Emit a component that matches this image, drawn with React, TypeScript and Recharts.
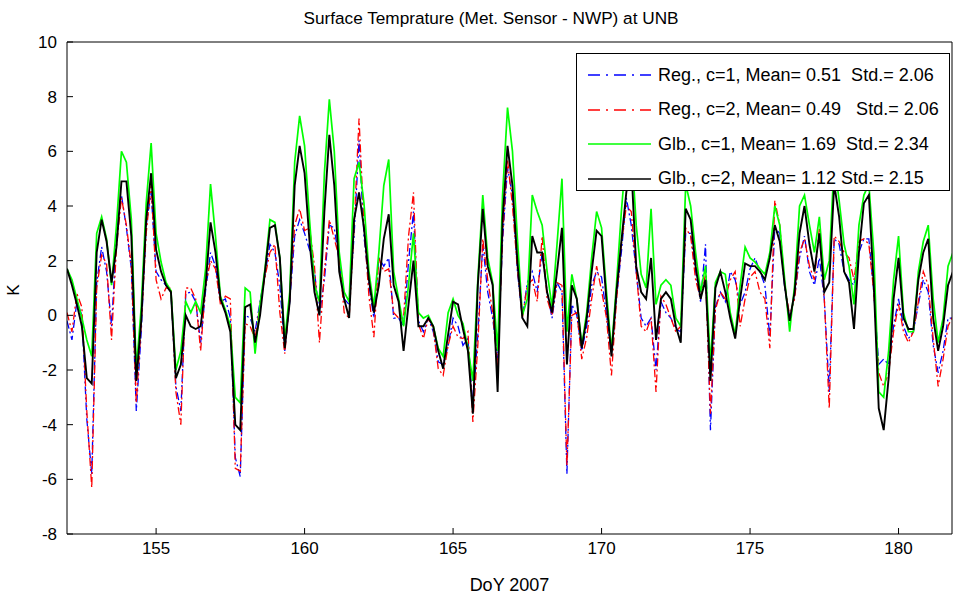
import React from 'react';
import { LineChart, Line, XAxis, YAxis, Legend, Label } from 'recharts';

const T0 = 152;
const DT = 1 / 6;

const glbC2 = [
  1.7, 1.1, 0.4, -0.4, -2.3, -2.5,
  2.3, 3.5, 2.7, 1.2, 2.5, 4.9,
  4.9, 2.9, -2.4, -0.2, 3.5, 5.2,
  2.4, 1.6, 1.1, 0.85, -2.3, -1.8,
  0.0, -0.4, -0.5, -0.4, 1.1, 3.4,
  2.3, 0.6, 0.1, -0.6, -4.0, -4.2,
  0.3, 0.4, -1.0, 0.0, 1.6, 3.2,
  3.3, 2.1, -1.2, 0.5, 4.75, 6.2,
  5.2, 2.7, 0.85, 0.0, 3.8, 6.6,
  4.75, 1.6, 0.6, -0.1, 3.5, 4.5,
  3.2, 1.3, 0.1, 1.1, 2.8, 3.7,
  1.1, 0.5, -1.3, 0.4, 2.0, -0.4,
  -0.4, -0.1, -0.4, -1.3, -1.95, -0.7,
  0.5, 0.4, -0.5, -1.3, -3.6, 1.1,
  3.9, 1.8, 1.1, -2.8, 3.5, 6.2,
  4.75, 1.95, -0.1, -0.4, 2.9, 2.3,
  2.3, 0.85, 0.1, 1.6, 3.2, -1.8,
  1.1, 0.6, -1.2, -0.1, 1.6, 3.1,
  2.9, 0.5, -1.5, 0.85, 2.7, 4.5,
  5.5, 1.8, 0.85, 0.6, 2.1, -0.9,
  0.6, 0.85, 0.6, -0.4, -1.0, 3.9,
  3.5, 1.8, 0.6, 1.3, -2.4, 1.0,
  1.6, 0.85, -0.1, -0.85, 0.6, 1.9,
  1.8, 1.8, 1.6, 1.3, 2.1, 3.3,
  2.7, 1.1, -0.2, 0.85, 3.0, 4.0,
  2.6, 1.6, 3.0, 0.85, 1.2, 4.8,
  3.6, 1.6, 1.2, -0.5, 2.3, 4.1,
  4.4, 1.1, -3.4, -4.2, -2.3, 0.6,
  2.1, -0.1, -0.5, -0.5, 1.3, 2.3,
  2.8, -0.1, -1.3, -0.4, 1.1, 1.6,
];

const glbC1 = [
  1.7, 1.3, 0.6, -0.1, -0.9, -1.5,
  3.0, 3.6, 2.8, 1.1, 3.3, 6.0,
  5.6, 3.5, -2.0, 0.3, 4.1, 6.3,
  3.0, 1.95, 1.2, 0.9, -2.0, -1.3,
  0.5, 0.1, 0.5, 0.1, 1.7, 4.8,
  2.9, 0.7, 0.2, -0.4, -3.0, -3.2,
  1.0, 0.85, -1.4, 0.4, 1.7, 3.5,
  3.4, 2.1, -0.9, 0.85, 5.6, 7.3,
  6.2, 3.5, 1.1, 0.5, 5.2, 7.9,
  6.0, 2.3, 0.85, 0.5, 5.0, 5.6,
  4.1, 1.6, 0.3, 2.3, 4.75, 5.7,
  1.6, 0.6, -0.4, 1.1, 3.0, 0.1,
  -0.1, 0.0, -0.4, -1.2, -1.5, 0.1,
  0.6, 0.0, -0.3, -1.2, -2.4, 1.3,
  4.4, 2.1, 1.2, -1.3, 4.4, 7.6,
  6.0, 2.8, 0.0, 0.6, 4.4, 3.8,
  3.3, 1.6, 0.3, 2.6, 5.0, -0.6,
  1.5, 0.6, -1.1, 0.1, 2.1, 3.8,
  3.2, 0.85, -1.3, 1.1, 3.8, 6.0,
  6.3, 3.3, 1.5, 1.0, 3.9, 0.4,
  1.1, 1.3, 1.1, -0.1, -0.4, 4.8,
  4.0, 2.3, 0.85, 1.8, -1.8, 1.2,
  1.6, 1.5, 0.1, -0.7, 1.1, 2.5,
  2.1, 1.95, 1.7, 1.5, 2.3, 4.0,
  3.3, 1.3, -0.6, 1.1, 4.0, 4.4,
  3.3, 2.3, 3.6, 1.3, 2.0, 5.6,
  4.2, 2.6, 1.8, 0.4, 3.3, 4.4,
  4.8, 2.3, -2.8, -3.0, -1.3, 1.3,
  2.9, 0.1, -0.6, -0.6, 1.6, 2.7,
  3.3, 0.6, -1.0, -0.1, 1.8, 2.3,
];

const regC1 = [
  -0.2, -0.9, 0.5, 0.0, -3.8, -5.8,
  1.2, 2.5, 1.6, -0.4, 2.9, 4.4,
  3.2, 1.7, -3.5, -0.6, 3.3, 4.5,
  1.6, 1.3, 1.1, 0.85, -2.6, -3.5,
  0.8, 0.85, 0.5, -1.0, 0.9, 2.3,
  1.8, 0.5, 0.6, -0.1, -5.2, -5.9,
  0.0, -0.1, -0.6, 0.5, 1.5, 2.6,
  2.3, 1.1, -1.3, 0.5, 2.9, 3.5,
  3.0, 2.4, 1.6, 0.0, 1.3, 3.3,
  3.2, 1.95, 0.6, 0.4, 2.9, 6.4,
  2.9, 1.1, -0.1, 2.1, 1.8, 2.1,
  -0.1, -0.1, -0.4, 1.95, 3.8, -0.2,
  -0.6, -0.1, -0.6, -1.7, -1.8, -1.1,
  -0.1, -0.4, -1.1, -0.85, -3.3, -0.7,
  2.6, 0.85, -0.1, -1.6, 2.7, 5.4,
  4.4, 1.6, -0.1, 1.2, 1.6, 0.85,
  2.3, 0.85, -0.1, 1.2, 0.85, -5.8,
  0.4, 0.0, -1.3, -0.4, 1.1, 1.6,
  1.4, 0.0, -1.4, 0.6, 2.3, 4.3,
  3.3, 1.6, -0.1, -0.4, -0.1, -2.0,
  0.5, 0.1, -0.1, -0.5, -0.6, 3.0,
  3.0, 1.6, 0.5, 2.6, -4.2, 0.3,
  0.85, 0.5, 1.6, 1.3, 0.4, 0.85,
  1.7, 2.1, 1.6, 1.1, -0.8, 3.2,
  3.0, 1.0, -0.1, 0.7, 2.1, 2.9,
  1.6, 1.1, 2.1, 0.6, -2.8, 2.8,
  2.6, 1.6, 1.3, 1.1, 2.3, 2.8,
  2.8, 0.85, -1.8, -1.6, -1.8, -0.4,
  0.6, -0.4, -0.85, -0.6, 0.4, 1.3,
  0.85, -1.1, -2.1, -1.3, -0.1, -0.1,
];

const regC2 = [
  0.1, -0.6, 0.8, 0.3, -3.5, -6.3,
  1.0, 2.2, 1.9, -0.9, 2.5, 4.3,
  3.3, 1.8, -3.2, -0.3, 3.0, 4.8,
  1.3, 0.6, 1.0, 1.0, -2.8, -4.0,
  1.0, 1.0, 0.6, -1.3, 1.1, 2.0,
  1.7, 0.4, 0.7, 0.6, -5.6, -5.7,
  -0.3, -0.4, -0.85, 0.4, 1.4, 2.3,
  2.6, 0.1, -1.4, 0.6, 3.3, 3.9,
  3.1, 3.2, 1.8, -1.0, 1.6, 3.5,
  2.8, 2.1, 0.1, -0.1, 3.2, 7.2,
  3.3, 0.7, -0.8, 2.1, 1.6, 1.7,
  0.1, -0.1, -0.1, 2.9, 4.5, -0.3,
  -0.85, -0.1, -0.5, -1.95, -2.2, -1.1,
  -0.4, -0.8, -0.85, -0.6, -3.9, -1.1,
  2.8, 1.3, 0.1, -1.9, 2.9, 5.7,
  4.0, 1.7, -0.1, 1.1, 1.3, 0.5,
  2.9, 0.6, 0.0, 1.2, 1.1, -5.5,
  0.0, 0.1, -1.6, -0.8, 0.6, 1.8,
  0.9, -0.1, -2.2, 0.5, 2.6, 4.0,
  3.8, 1.6, -0.4, -0.6, -0.1, -2.8,
  0.7, 0.4, -0.1, -0.6, -0.4, 3.2,
  2.9, 1.3, 0.6, 1.5, -3.6, 0.2,
  0.85, 0.6, 1.3, 1.6, -0.4, 0.6,
  1.4, 1.6, 0.85, 0.6, -1.2, 4.2,
  3.3, 1.1, 0.0, 0.6, 2.3, 2.8,
  1.8, 1.3, 3.2, 0.6, -3.4, 2.9,
  2.7, 2.3, 2.1, 1.3, 2.7, 2.8,
  2.6, 0.85, -2.1, -2.6, -2.1, -0.6,
  0.4, -0.6, -1.0, -0.6, 0.5, 1.6,
  1.1, -0.85, -2.6, -1.6, -0.4, 0.0,
];

const xTicks = [155, 160, 165, 170, 175, 180];
const yTicks = [-8, -6, -4, -2, 0, 2, 4, 6, 8, 10];

const seriesInfo = [
  { key: 'reg1', name: 'Reg., c=1, Mean= 0.51  Std.= 2.06', color: '#0000ff', dash: true, width: 1.3 },
  { key: 'reg2', name: 'Reg., c=2, Mean= 0.49   Std.= 2.06', color: '#ff0000', dash: true, width: 1.3 },
  { key: 'glb1', name: 'Glb., c=1, Mean= 1.69  Std.= 2.34', color: '#00ff00', dash: false, width: 1.7 },
  { key: 'glb2', name: 'Glb., c=2, Mean= 1.12 Std.= 2.15', color: '#000000', dash: false, width: 1.9 },
];

const data = glbC2.map((_, i) => ({
  t: T0 + i * DT,
  reg1: regC1[i],
  reg2: regC2[i],
  glb1: glbC1[i],
  glb2: glbC2[i],
}));

const FONT = '"Liberation Sans", Arial, sans-serif';

const LegendBox = () => (
  <div
    style={{
      width: 374,
      height: 138,
      border: '1px solid #000',
      background: '#fff',
      boxSizing: 'border-box',
      fontFamily: FONT,
      fontSize: 18,
      color: '#000',
      paddingTop: 4,
    }}
  >
    {seriesInfo.map((s) => (
      <div key={s.key} style={{ display: 'flex', alignItems: 'center', height: 34.5, whiteSpace: 'pre' }}>
        <svg width={81} height={10} style={{ flex: 'none' }}>
          <line
            x1={11}
            y1={5}
            x2={74}
            y2={5}
            stroke={s.color}
            strokeWidth={1.5}
            strokeDasharray={s.dash ? '12 6 2 6' : undefined}
          />
        </svg>
        <span>{s.name}</span>
      </div>
    ))}
  </div>
);

export default function App() {
  return (
    <div style={{ position: 'absolute', left: 0, top: 0, width: 953, height: 599, background: '#fff' }}>
      <div
        style={{
          position: 'absolute',
          left: 0,
          top: 8,
          width: 982,
          textAlign: 'center',
          fontFamily: FONT,
          fontSize: 17.2,
          color: '#000',
        }}
      >
        Surface Temprature (Met. Sensor - NWP) at UNB
      </div>
      <LineChart
        width={953}
        height={599}
        data={data}
        margin={{ top: 41, right: 0, bottom: 0, left: 0 }}
      >
        <XAxis
          xAxisId="b"
          dataKey="t"
          type="number"
          domain={[152, 181.8]}
          ticks={xTicks}
          allowDataOverflow
          height={65}
          tickSize={-6}
          tickMargin={14}
          stroke="#000"
          tick={{ fill: '#000', fontSize: 17, fontFamily: FONT }}
        >
          <Label
            value="DoY 2007"
            position="insideBottom"
            offset={8}
            style={{ fill: '#000', fontSize: 18, fontFamily: FONT }}
          />
        </XAxis>
        <XAxis
          xAxisId="t"
          orientation="top"
          dataKey="t"
          type="number"
          domain={[152, 181.8]}
          ticks={xTicks}
          allowDataOverflow
          height={1}
          tickSize={-6}
          tick={false}
          stroke="#000"
        />
        <YAxis
          yAxisId="l"
          type="number"
          domain={[-8, 10]}
          ticks={yTicks}
          allowDataOverflow
          width={67}
          tickSize={-6}
          tickMargin={16}
          stroke="#000"
          tick={{ fill: '#000', fontSize: 17, fontFamily: FONT }}
          label={{
            content: (p: any) => {
              const vb = p.viewBox || { x: 0, y: 41, width: 67, height: 492 };
              const cx = vb.x + 13;
              const cy = vb.y + vb.height / 2 + 2;
              return (
                <text
                  x={cx}
                  y={cy}
                  transform={`rotate(-90, ${cx}, ${cy})`}
                  textAnchor="middle"
                  dominantBaseline="central"
                  style={{ fill: '#000', fontSize: 17, fontFamily: FONT }}
                >
                  K
                </text>
              );
            },
          }}
        />
        <YAxis
          yAxisId="r"
          orientation="right"
          type="number"
          domain={[-8, 10]}
          ticks={yTicks}
          allowDataOverflow
          width={1}
          tickSize={-6}
          tick={false}
          stroke="#000"
        />
        {seriesInfo.map((s) => (
          <Line
            key={s.key}
            xAxisId="b"
            yAxisId="l"
            type="linear"
            dataKey={s.key}
            name={s.name}
            stroke={s.color}
            strokeWidth={s.width}
            strokeDasharray={s.dash ? '8 3 2 3' : undefined}
            dot={false}
            activeDot={false}
            isAnimationActive={false}
          />
        ))}
        <Legend
          layout="vertical"
          align="center"
          verticalAlign="middle"
          content={() => <LegendBox />}
          wrapperStyle={{ position: 'absolute', left: 576, top: 53, width: 374, height: 138 }}
        />
      </LineChart>
    </div>
  );
}
